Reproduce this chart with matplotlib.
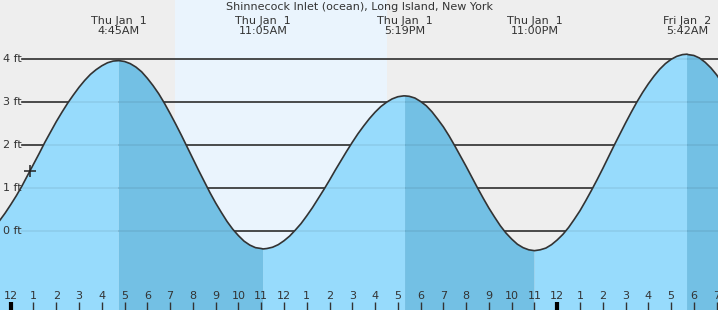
import numpy as np
import matplotlib
matplotlib.use("Agg")
from matplotlib import pyplot as plt
from matplotlib import transforms

TITLE = "Shinnecock Inlet (ocean), Long Island, New York"

# predicted height (ft) every 15 minutes from 11:30PM Dec 31, plus the turning points
EXTREME_T = [11.083, 17.317, 29.7]
TIMES = sorted([round(float(x), 3) for x in np.arange(-0.5, 31.51, 0.25)] + EXTREME_T)
HEIGHTS = [0.24, 0.42, 0.62, 0.83, 1.06, 1.31, 1.56, 1.81, 2.07, 2.31, 2.55, 2.77, 2.98, 3.17, 3.35, 3.51,
           3.65, 3.76, 3.85, 3.92, 3.96, 3.97, 3.95, 3.90, 3.82, 3.71, 3.56, 3.39, 3.20, 2.98, 2.74, 2.49,
           2.23, 1.96, 1.69, 1.42, 1.16, 0.90, 0.66, 0.44, 0.23, 0.05, -0.10, -0.23, -0.32, -0.38, -0.40, -0.41,
           -0.40, -0.37, -0.31, -0.22, -0.11, 0.03, 0.18, 0.36, 0.55, 0.76, 0.97, 1.19, 1.42, 1.64, 1.86, 2.07,
           2.27, 2.45, 2.62, 2.77, 2.90, 3.00, 3.08, 3.13, 3.15, 3.15, 3.14, 3.10, 3.02, 2.92, 2.78, 2.61,
           2.43, 2.22, 1.99, 1.75, 1.51, 1.26, 1.01, 0.77, 0.54, 0.33, 0.13, -0.04, -0.18, -0.30, -0.38, -0.43,
           -0.45, -0.43, -0.39, -0.31, -0.20, -0.07, 0.09, 0.28, 0.48, 0.71, 0.95, 1.20, 1.46, 1.73, 2.00, 2.26,
           2.52, 2.77, 3.01, 3.23, 3.43, 3.61, 3.77, 3.90, 4.00, 4.07, 4.11, 4.12, 4.11, 4.09, 4.03, 3.93,
           3.80, 3.64, 3.44, 3.22]

EVENT_T = [-2.45, 4.75, 11.083, 17.317, 23.0, 29.7]
EVENT_LABELS = ["Wed Dec 31\n9:33PM", "Thu Jan  1\n4:45AM", "Thu Jan  1\n11:05AM",
                "Thu Jan  1\n5:19PM", "Thu Jan  1\n11:00PM", "Fri Jan  2\n5:42AM"]

SUNRISE, SUNSET = 7.2, 16.52
NOW_T, NOW_H = 0.85, 1.41

HOUR_TICKS = list(range(0, 32))
HOUR_LABELS = ["12", "1", "2", "3", "4", "5", "6", "7", "8", "9", "10", "11",
               "12", "1", "2", "3", "4", "5", "6", "7", "8", "9", "10", "11",
               "12", "1", "2", "3", "4", "5", "6", "7"]
FT_TICKS = [0, 1, 2, 3, 4]

W, H = 718, 310
fig = plt.figure(figsize=(W / 100, H / 100), dpi=100, facecolor="#eeeeee")
ax = fig.add_axes([0, 0, 1, 1])
ax.set_axis_off()
ax.set_xlim(-0.47, 31.06)
ax.set_ylim(-1.83, 5.38)
ybot = -1.83

ax.axvspan(SUNRISE, SUNSET, color="#eaf4fd", lw=0, zorder=0)

for y in FT_TICKS:
    ax.axhline(y, xmin=22 / W, color="#333333", lw=1.2, zorder=1)

t = np.array(TIMES)
h = np.array(HEIGHTS)
d = np.diff(h)
fall = np.zeros(len(h), bool)
fall[:-1] |= d < 0
fall[1:] |= d < 0
rise = np.zeros(len(h), bool)
rise[:-1] |= d >= 0
rise[1:] |= d >= 0
ax.fill_between(t, h, ybot, where=rise, color="#97dbfc", lw=0, zorder=2)
ax.fill_between(t, h, ybot, where=fall, color="#73c0e4", lw=0, zorder=2)

for y in FT_TICKS:
    ax.axhline(y, xmin=22 / W, color="black", alpha=0.07, lw=1.2, zorder=3)

ax.plot(t, h, color="#333333", lw=1.2, zorder=4)
ax.plot([NOW_T], [NOW_H], "+", color="#222222", ms=9, mew=1.1, zorder=5)

yax = transforms.blended_transform_factory(ax.transAxes, ax.transData)
for y in FT_TICKS:
    ax.text(3 / W, y, f"{y} ft", transform=yax, ha="left", va="center",
            fontsize=8, color="#333333", zorder=6)

xax = transforms.blended_transform_factory(ax.transData, ax.transAxes)
for hr, lab in zip(HOUR_TICKS, HOUR_LABELS):
    mid = hr % 24 == 0
    ax.plot([hr, hr], [0, 8 / H], transform=xax, color="black" if mid else "#333333",
            lw=3 if mid else 1, solid_capstyle="butt", zorder=6, clip_on=False)
    ax.text(hr, 14 / H, lab, transform=xax, ha="center", va="center",
            fontsize=8, color="#333333", zorder=6)

for et, lab in zip(EVENT_T, EVENT_LABELS):
    ax.text(et, 1 - 26 / H, lab, transform=xax, ha="center", va="center",
            multialignment="center", linespacing=1.1, fontsize=8, color="#333333")

ax.text(0.5, 1 - 7 / H, TITLE, transform=ax.transAxes, ha="center", va="center",
        fontsize=8, color="#333333")

fig.savefig("out.png", dpi=100, facecolor=fig.get_facecolor())
